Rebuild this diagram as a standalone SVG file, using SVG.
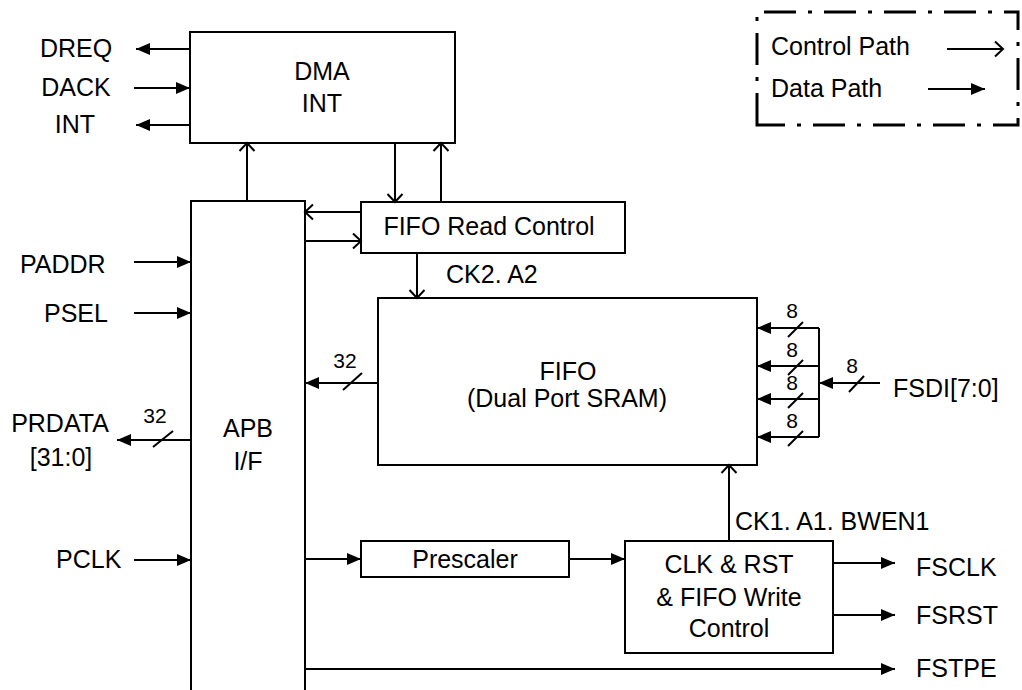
<svg xmlns="http://www.w3.org/2000/svg" width="1022" height="690" viewBox="0 0 1022 690">
<style>
.box{fill:#fff;stroke:#000;stroke-width:2}
.ln{fill:none;stroke:#000;stroke-width:2}
.d{marker-end:url(#data)}
.c{marker-end:url(#ctrl)}
text{font-family:"Liberation Sans",Arial,sans-serif;font-size:25px;fill:#000}
.s{font-size:21px}
.m{text-anchor:middle}
</style>
<defs>
<marker id="data" markerWidth="16" markerHeight="14" refX="14" refY="7" orient="auto" markerUnits="userSpaceOnUse"><path d="M0,1 L14,7 L0,13 z" fill="#000"/></marker>
<marker id="ctrl" markerWidth="12" markerHeight="18" refX="9" refY="9" orient="auto" markerUnits="userSpaceOnUse"><path d="M1,1.5 L9,9 L1,16.5" fill="none" stroke="#000" stroke-width="2"/></marker>
</defs>
<rect width="1022" height="690" fill="#fff"/>

<g id="legend">
<path d="M757,125 L757,12 L1018,12 L1018,125 Z" fill="none" stroke="#000" stroke-width="3" stroke-dasharray="32 12 4 12"/>
<text x="771" y="55">Control Path</text>
<text x="771" y="97">Data Path</text>
<line x1="947" y1="49" x2="1003" y2="49" class="ln c"/>
<line x1="928" y1="89" x2="985" y2="89" class="ln d"/>
</g>

<g id="dma">
<rect x="190" y="32" width="265" height="111" class="box"/>
<text x="322" y="80" class="m">DMA</text>
<text x="322" y="112" class="m">INT</text>
</g>

<g id="apb">
<rect x="191" y="201" width="114" height="520" class="box"/>
<text x="248" y="437" class="m">APB</text>
<text x="248" y="470" class="m">I/F</text>
</g>

<g id="fifo-read-control">
<rect x="361" y="202" width="264" height="51" class="box"/>
<text x="489" y="235" class="m">FIFO Read Control</text>
</g>

<g id="fifo">
<rect x="378" y="298" width="379" height="167" class="box"/>
<text x="568" y="380" class="m">FIFO</text>
<text x="567" y="407" class="m">(Dual Port SRAM)</text>
</g>

<g id="prescaler">
<rect x="361" y="541" width="208" height="36" class="box"/>
<text x="465" y="568" class="m">Prescaler</text>
</g>

<g id="clk-rst">
<rect x="625" y="541" width="208" height="112" class="box"/>
<text x="729" y="573" class="m">CLK &amp; RST</text>
<text x="729" y="606" class="m">&amp; FIFO Write</text>
<text x="729" y="637" class="m">Control</text>
</g>

<g id="connectors">
<line x1="190" y1="49" x2="136" y2="49" class="ln d"/>
<line x1="134" y1="88" x2="190" y2="88" class="ln d"/>
<line x1="190" y1="125" x2="136" y2="125" class="ln d"/>
<line x1="247" y1="201" x2="247" y2="143" class="ln c"/>
<line x1="395" y1="143" x2="395" y2="202" class="ln c"/>
<line x1="441" y1="202" x2="441" y2="143" class="ln c"/>
<line x1="361" y1="212" x2="305" y2="212" class="ln c"/>
<line x1="305" y1="241" x2="361" y2="241" class="ln c"/>
<line x1="417" y1="253" x2="417" y2="298" class="ln c"/>
<line x1="134" y1="262" x2="191" y2="262" class="ln d"/>
<line x1="134" y1="313" x2="191" y2="313" class="ln d"/>
<line x1="134" y1="560" x2="191" y2="560" class="ln d"/>
<line x1="191" y1="440" x2="117" y2="440" class="ln d"/>
<line x1="153" y1="447" x2="173" y2="431" class="ln"/>
<line x1="378" y1="383" x2="305" y2="383" class="ln d"/>
<line x1="343" y1="390" x2="362" y2="373" class="ln"/>
<path d="M880,383 L819,383" class="ln d"/>
<line x1="849" y1="392" x2="864" y2="376" class="ln"/>
<path d="M819,328 L819,437" class="ln"/>
<line x1="819" y1="328" x2="757" y2="328" class="ln d"/>
<line x1="819" y1="366" x2="757" y2="366" class="ln d"/>
<line x1="819" y1="399" x2="757" y2="399" class="ln d"/>
<line x1="819" y1="437" x2="757" y2="437" class="ln d"/>
<line x1="788" y1="337" x2="803" y2="322" class="ln"/>
<line x1="788" y1="375" x2="803" y2="360" class="ln"/>
<line x1="788" y1="408" x2="803" y2="393" class="ln"/>
<line x1="788" y1="446" x2="803" y2="431" class="ln"/>
<line x1="305" y1="559" x2="361" y2="559" class="ln d"/>
<line x1="569" y1="559" x2="625" y2="559" class="ln d"/>
<line x1="729" y1="541" x2="729" y2="465" class="ln c"/>
<line x1="833" y1="563" x2="895" y2="563" class="ln d"/>
<line x1="833" y1="615" x2="895" y2="615" class="ln d"/>
<line x1="305" y1="669" x2="895" y2="669" class="ln d"/>
</g>

<g id="labels">
<text x="76" y="57" class="m">DREQ</text>
<text x="76" y="96" class="m">DACK</text>
<text x="75" y="133" class="m">INT</text>
<text x="20" y="273">PADDR</text>
<text x="44" y="322">PSEL</text>
<text x="60" y="432" class="m">PRDATA</text>
<text x="61" y="466" class="m">[31:0]</text>
<text x="155" y="423" class="m s">32</text>
<text x="56" y="568">PCLK</text>
<text x="446" y="283">CK2. A2</text>
<text x="345" y="368" class="m s">32</text>
<text x="792" y="318" class="m s">8</text>
<text x="792" y="357" class="m s">8</text>
<text x="792" y="390" class="m s">8</text>
<text x="792" y="428" class="m s">8</text>
<text x="852" y="373" class="m s">8</text>
<text x="893" y="397">FSDI[7:0]</text>
<text x="735" y="530">CK1. A1. BWEN1</text>
<text x="916" y="576">FSCLK</text>
<text x="916" y="624">FSRST</text>
<text x="916" y="677">FSTPE</text>
</g>
</svg>
